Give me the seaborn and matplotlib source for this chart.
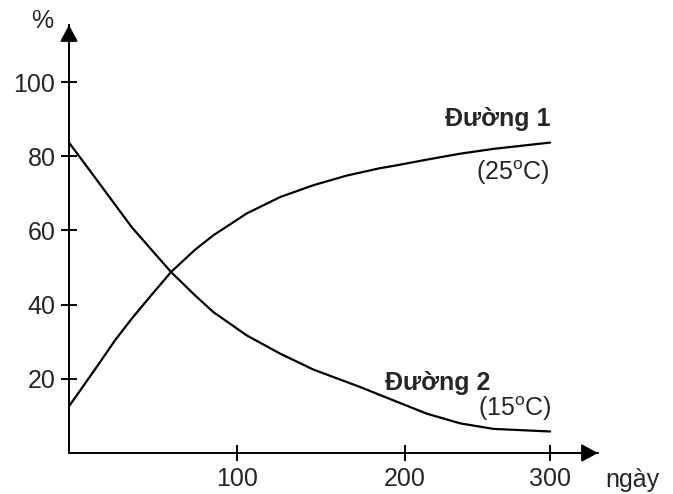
import matplotlib
matplotlib.use("Agg")
import matplotlib.pyplot as plt
import numpy as np
import seaborn as sns

# values (days, %)
day_line1 = [0, 9.5, 17.4, 27.4, 37.3, 47.2, 60.7, 75.0, 85.9, 105.8,
             125.6, 145.4, 165.3, 185.1, 193.0, 215.0, 237.9, 260.9, 300]
pct_line1 = [12.6, 18.7, 23.8, 30.4, 36.2, 41.6, 48.8, 54.8, 58.7, 64.6,
             69.0, 72.2, 74.8, 76.8, 77.4, 79.1, 80.7, 82.0, 83.7]

day_line2 = [0, 17.4, 37.3, 60.7, 75.0, 85.9, 105.8, 125.6, 145.4, 173.2,
             193.0, 215.0, 237.9, 260.9, 300]
pct_line2 = [83.7, 73.1, 60.9, 48.8, 42.5, 38.0, 31.7, 26.8, 22.5, 17.8,
             14.2, 10.6, 8.0, 6.5, 5.8]

x_ticks = [100, 200, 300]
y_ticks = [20, 40, 60, 80, 100]

# tick spacing in the original drawing is not even
scale_days = [0, 100, 200, 300, 400]
scale_pos = [0, 168, 336, 481, 626]


def fwd(x):
    return np.interp(x, scale_days, scale_pos)


def inv(x):
    return np.interp(x, scale_pos, scale_days)


sns.set_style("white")
plt.rcParams["font.family"] = ["Liberation Sans", "DejaVu Sans"]
plt.rcParams["mathtext.fontset"] = "custom"
plt.rcParams["mathtext.rm"] = "Liberation Sans"

W, H = 673, 494
fig = plt.figure(figsize=(W / 100, H / 100), dpi=100)
ax = fig.add_axes([69 / W, 41 / H, 529 / W, 428 / H])

sns.lineplot(x=day_line1, y=pct_line1, color="black", lw=1.6, ax=ax)
sns.lineplot(x=day_line2, y=pct_line2, color="black", lw=1.6, ax=ax)

ax.set_xscale("function", functions=(fwd, inv))
ax.set_xlim(0, 333)
ax.set_ylim(0, 115.4)
ax.set_xticks(x_ticks)
ax.set_yticks(y_ticks)
ax.minorticks_off()
ax.tick_params(bottom=True, left=True, direction="inout", length=11.5,
               width=1.4, labelsize=18, color="black", pad=4)

for side in ["top", "right"]:
    ax.spines[side].set_visible(False)
for side in ["left", "bottom"]:
    ax.spines[side].set_linewidth(1.4)
    ax.spines[side].set_color("black")

arrow = dict(arrowstyle="-|>,head_length=0.5,head_width=0.27", color="black",
             lw=1.4, mutation_scale=20, shrinkA=0, shrinkB=0)
ax.annotate("", xy=(0, 1), xycoords="axes fraction", xytext=(0, 0.9),
            arrowprops=arrow, annotation_clip=False)
ax.annotate("", xy=(1, 0), xycoords="axes fraction", xytext=(0.9, 0),
            arrowprops=arrow, annotation_clip=False)

ax.text(300, 90.0, "Đường 1", ha="right", va="center", fontsize=18,
        fontweight="bold")
ax.text(300, 75.7, r"(25$^{\rm o}$C)", ha="right", va="center", fontsize=18)
ax.text(258.6, 19.0, "Đường 2", ha="right", va="center", fontsize=18,
        fontweight="bold")
ax.text(301, 12.0, r"(15$^{\rm o}$C)", ha="right", va="center", fontsize=18)

fig.text(42.5 / W, 1 - 21 / H, "%", ha="center", va="center", fontsize=18)
fig.text(632 / W, 1 - 480 / H, "ngày", ha="center", va="center", fontsize=18)

fig.savefig("out.png", dpi=100)
